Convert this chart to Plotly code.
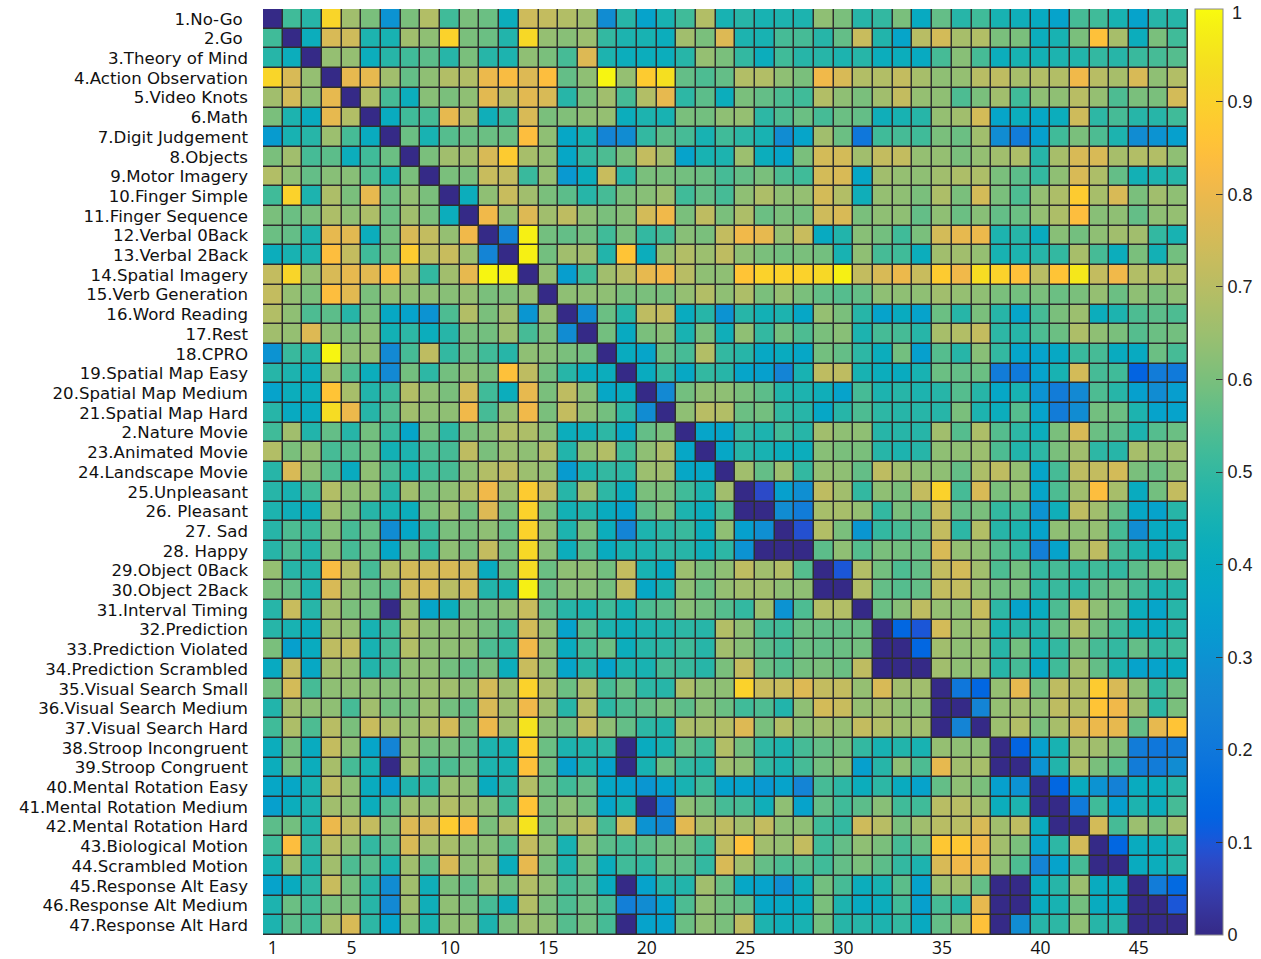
import plotly.graph_objects as go

# Task names (row / column order)
task_labels = [
    "1.No-Go ", "2.Go ", "3.Theory of Mind", "4.Action Observation", "5.Video Knots",
    "6.Math", "7.Digit Judgement", "8.Objects", "9.Motor Imagery", "10.Finger Simple",
    "11.Finger Sequence", "12.Verbal 0Back", "13.Verbal 2Back", "14.Spatial Imagery",
    "15.Verb Generation", "16.Word Reading", "17.Rest", "18.CPRO", "19.Spatial Map Easy",
    "20.Spatial Map Medium", "21.Spatial Map Hard", "2.Nature Movie", "23.Animated Movie",
    "24.Landscape Movie", "25.Unpleasant", "26. Pleasant", "27. Sad", "28. Happy",
    "29.Object 0Back", "30.Object 2Back", "31.Interval Timing", "32.Prediction",
    "33.Prediction Violated", "34.Prediction Scrambled", "35.Visual Search Small",
    "36.Visual Search Medium", "37.Visual Search Hard", "38.Stroop Incongruent",
    "39.Stroop Congruent", "40.Mental Rotation Easy", "41.Mental Rotation Medium",
    "42.Mental Rotation Hard", "43.Biological Motion", "44.Scrambled Motion",
    "45.Response Alt Easy", "46.Response Alt Medium", "47.Response Alt Hard",
]
task_numbers = list(range(1, 48))
x_tick_values = [1, 5, 10, 15, 20, 25, 30, 35, 40, 45]
cbar_tick_values = [0, 0.1, 0.2, 0.3, 0.4, 0.5, 0.6, 0.7, 0.8, 0.9]
cbar_tick_text = ["0", "0.1", "0.2", "0.3", "0.4", "0.5", "0.6", "0.7", "0.8", "0.9"]
cbar_top_text = "1"

# Pairwise task dissimilarity
values = [
    [0, .52, .48, .91, .66, .6, .3, .6, .69, .52, .6, .58, .42, .74, .72, .69, .66, .28, .48, .36, .45, .52, .69, .45, .48, .45, .46, .46, .63, .6, .48, .5, .6, .4, .57, .48, .52, .45, .43, .4, .36, .53, .52, .45, .36, .48, .48],
    [.52, 0, .42, .76, .74, .46, .45, .66, .63, .9, .6, .58, .47, .92, .64, .62, .65, .5, .46, .45, .42, .66, .6, .77, .46, .45, .53, .53, .48, .57, .73, .47, .37, .7, .75, .67, .69, .6, .6, .42, .45, .6, .85, .67, .42, .6, .52],
    [.48, .42, 0, .64, .64, .42, .48, .52, .56, .48, .6, .48, .46, .63, .6, .53, .77, .46, .42, .42, .42, .48, .64, .6, .5, .42, .52, .48, .48, .46, .48, .42, .42, .4, .53, .62, .53, .42, .45, .44, .46, .47, .5, .48, .51, .53, .55],
    [.91, .76, .64, 0, .79, .79, .66, .57, .63, .69, .69, .8, .83, .77, .84, .57, .63, .99, .64, .88, .94, .57, .54, .57, .69, .69, .63, .6, .81, .76, .69, .69, .72, .67, .63, .64, .7, .71, .67, .69, .69, .81, .7, .67, .76, .63, .69],
    [.66, .75, .63, .79, 0, .69, .53, .42, .62, .6, .63, .78, .71, .78, .76, .48, .6, .66, .53, .69, .79, .49, .56, .42, .6, .57, .54, .52, .69, .63, .6, .66, .72, .64, .63, .54, .6, .66, .52, .63, .63, .7, .64, .54, .6, .6, .75],
    [.6, .46, .41, .79, .69, 0, .41, .52, .53, .79, .68, .43, .51, .76, .6, .61, .63, .64, .42, .46, .45, .6, .59, .63, .64, .49, .54, .58, .53, .58, .57, .43, .45, .48, .64, .66, .75, .37, .42, .38, .42, .74, .49, .53, .48, .48, .52],
    [.33, .45, .48, .65, .53, .41, 0, .58, .45, .55, .58, .58, .58, .84, .63, .38, .45, .25, .28, .5, .56, .53, .45, .52, .49, .45, .28, .37, .66, .58, .2, .52, .53, .52, .6, .58, .66, .28, .22, .35, .52, .6, .54, .46, .28, .3, .35],
    [.6, .66, .53, .56, .42, .52, .58, 0, .6, .66, .66, .76, .88, .67, .64, .38, .5, .54, .6, .72, .66, .36, .45, .46, .65, .42, .37, .6, .75, .75, .66, .72, .72, .64, .64, .6, .64, .66, .68, .48, .67, .76, .76, .67, .69, .69, .63],
    [.69, .63, .57, .62, .62, .55, .44, .6, 0, .6, .6, .73, .72, .51, .64, .32, .42, .73, .49, .6, .6, .59, .58, .53, .57, .6, .54, .52, .75, .76, .38, .66, .64, .63, .66, .68, .68, .6, .56, .5, .63, .76, .68, .57, .44, .46, .48],
    [.52, .9, .46, .68, .6, .79, .58, .64, .6, 0, .42, .63, .73, .66, .6, .56, .48, .53, .6, .62, .65, .52, .57, .53, .63, .68, .63, .64, .75, .69, .43, .64, .63, .6, .68, .6, .75, .6, .54, .64, .68, .88, .67, .76, .6, .66, .63],
    [.6, .58, .6, .68, .63, .68, .58, .66, .6, .42, 0, .81, .64, .77, .66, .71, .63, .6, .62, .75, .81, .6, .71, .6, .68, .58, .6, .59, .74, .76, .6, .63, .63, .57, .63, .58, .62, .57, .58, .64, .68, .84, .62, .63, .57, .63, .64],
    [.58, .57, .46, .79, .78, .42, .59, .76, .72, .64, .81, 0, .25, .98, .59, .57, .59, .52, .6, .5, .53, .62, .6, .72, .81, .79, .64, .73, .4, .47, .62, .59, .52, .6, .75, .79, .8, .46, .48, .41, .62, .59, .63, .66, .66, .5, .45],
    [.42, .45, .46, .84, .72, .52, .59, .88, .7, .73, .65, .25, 0, .98, .59, .66, .66, .47, .86, .42, .64, .69, .65, .71, .63, .6, .59, .6, .59, .45, .63, .53, .52, .42, .66, .66, .64, .45, .46, .48, .5, .67, .53, .42, .6, .44, .59],
    [.72, .91, .64, .76, .79, .78, .84, .69, .5, .66, .79, .99, .98, 0, .64, .34, .52, .66, .7, .79, .81, .7, .63, .63, .86, .9, .9, .9, .92, .98, .72, .76, .8, .73, .88, .81, .93, .9, .85, .7, .86, .96, .72, .81, .69, .69, .68],
    [.72, .64, .6, .84, .78, .6, .63, .63, .63, .62, .64, .6, .61, .64, 0, .63, .63, .63, .6, .6, .6, .64, .69, .63, .68, .6, .64, .6, .57, .55, .57, .63, .63, .63, .66, .64, .63, .6, .59, .6, .58, .6, .64, .58, .63, .6, .63],
    [.69, .63, .54, .56, .48, .6, .39, .36, .3, .54, .69, .6, .66, .31, .64, 0, .28, .58, .48, .71, .72, .41, .48, .3, .48, .44, .46, .38, .64, .6, .48, .36, .41, .36, .58, .48, .6, .48, .37, .53, .6, .65, .42, .46, .54, .56, .54],
    [.66, .64, .77, .63, .6, .63, .44, .49, .42, .48, .6, .59, .65, .53, .61, .28, 0, .59, .4, .6, .62, .45, .6, .43, .63, .5, .59, .54, .6, .62, .46, .53, .53, .48, .67, .69, .72, .49, .48, .54, .58, .68, .63, .6, .55, .58, .59],
    [.3, .51, .48, .99, .64, .64, .27, .53, .71, .5, .58, .52, .48, .63, .62, .6, .59, 0, .41, .37, .58, .53, .69, .5, .48, .39, .41, .38, .59, .57, .49, .42, .59, .35, .55, .48, .62, .5, .37, .36, .39, .51, .53, .41, .4, .58, .53],
    [.48, .46, .42, .65, .54, .42, .27, .59, .49, .59, .63, .6, .85, .71, .59, .48, .41, .42, 0, .41, .5, .39, .5, .48, .37, .35, .25, .45, .71, .71, .45, .42, .41, .45, .58, .57, .58, .22, .21, .36, .45, .75, .53, .52, .13, .22, .21],
    [.36, .42, .42, .86, .67, .47, .51, .69, .63, .6, .75, .52, .42, .79, .6, .71, .62, .38, .41, 0, .27, .59, .63, .63, .6, .56, .47, .46, .43, .36, .53, .46, .48, .46, .48, .55, .48, .38, .45, .3, .22, .27, .54, .48, .35, .28, .34],
    [.48, .4, .41, .93, .8, .48, .55, .66, .63, .63, .81, .53, .64, .81, .6, .72, .63, .59, .49, .28, 0, .63, .7, .69, .58, .59, .5, .48, .38, .48, .54, .49, .48, .48, .48, .6, .46, .42, .55, .36, .22, .28, .59, .58, .46, .36, .36],
    [.52, .66, .47, .57, .48, .59, .51, .37, .59, .49, .6, .62, .69, .68, .62, .42, .43, .49, .39, .57, .6, 0, .37, .37, .5, .46, .52, .48, .66, .63, .63, .48, .48, .48, .66, .55, .68, .55, .49, .42, .6, .76, .58, .56, .46, .55, .58],
    [.69, .6, .63, .53, .55, .59, .44, .46, .54, .53, .71, .6, .65, .63, .69, .47, .63, .69, .52, .63, .68, .38, 0, .38, .48, .45, .42, .42, .62, .6, .6, .48, .46, .48, .63, .63, .65, .54, .47, .49, .6, .66, .49, .48, .67, .63, .66],
    [.48, .76, .63, .54, .41, .63, .53, .45, .52, .53, .63, .69, .71, .65, .64, .33, .46, .5, .49, .65, .66, .38, .38, 0, .66, .57, .65, .5, .64, .63, .57, .71, .66, .63, .63, .57, .68, .71, .64, .37, .53, .71, .72, .75, .6, .58, .63],
    [.48, .45, .52, .69, .63, .64, .48, .66, .6, .63, .69, .81, .66, .88, .72, .48, .66, .49, .42, .6, .6, .52, .46, .66, 0, .08, .35, .29, .71, .66, .5, .63, .6, .72, .9, .53, .76, .6, .63, .37, .54, .66, .84, .67, .41, .59, .72],
    [.46, .43, .42, .66, .6, .48, .45, .42, .6, .66, .59, .77, .6, .9, .6, .44, .47, .41, .36, .56, .6, .46, .42, .54, 0, 0, .28, .22, .67, .67, .64, .5, .6, .57, .73, .57, .6, .5, .52, .3, .43, .71, .66, .57, .38, .36, .48],
    [.48, .54, .51, .62, .53, .57, .28, .38, .51, .6, .6, .63, .58, .9, .63, .46, .6, .42, .25, .46, .49, .51, .42, .63, .35, .29, 0, .09, .69, .6, .31, .5, .53, .56, .72, .49, .69, .48, .46, .36, .63, .63, .64, .53, .28, .4, .42],
    [.48, .54, .47, .62, .53, .57, .38, .59, .5, .63, .6, .72, .6, .92, .62, .42, .56, .41, .45, .46, .49, .48, .43, .49, .3, 0, 0, 0, .56, .63, .55, .6, .59, .58, .76, .64, .63, .55, .5, .23, .36, .64, .71, .53, .46, .41, .48],
    [.64, .48, .47, .83, .7, .53, .69, .75, .75, .76, .75, .41, .59, .93, .58, .63, .63, .59, .72, .45, .4, .65, .6, .63, .71, .66, .69, .55, 0, .1, .69, .59, .54, .57, .72, .75, .66, .54, .59, .5, .53, .5, .52, .5, .56, .6, .62],
    [.6, .57, .46, .76, .64, .58, .56, .74, .76, .7, .75, .47, .45, .98, .57, .62, .62, .59, .72, .38, .45, .63, .58, .64, .66, .66, .63, .63, 0, 0, .69, .57, .55, .57, .72, .72, .64, .59, .6, .48, .51, .49, .56, .58, .53, .46, .48],
    [.48, .73, .48, .66, .6, .59, 0, .65, .37, .42, .6, .6, .63, .73, .57, .48, .46, .52, .45, .54, .56, .62, .59, .55, .5, .65, .3, .54, .69, .69, 0, .58, .62, .71, .64, .63, .73, .49, .36, .41, .54, .73, .63, .58, .42, .37, .48],
    [.48, .45, .42, .66, .64, .45, .52, .69, .63, .63, .63, .59, .53, .75, .63, .36, .55, .46, .43, .46, .47, .49, .48, .69, .63, .53, .52, .58, .57, .57, .58, 0, .14, .1, .75, .64, .66, .45, .48, .47, .58, .69, .59, .52, .42, .4, .48],
    [.6, .35, .41, .71, .72, .45, .52, .69, .63, .63, .63, .54, .5, .81, .63, .41, .53, .58, .42, .48, .49, .52, .48, .66, .62, .56, .53, .58, .57, .58, .59, 0, 0, .14, .66, .63, .64, .48, .59, .45, .5, .6, .53, .5, .57, .5, .52],
    [.4, .72, .39, .66, .63, .47, .52, .63, .63, .59, .57, .6, .42, .73, .63, .37, .48, .36, .46, .45, .53, .51, .48, .6, .72, .58, .55, .59, .6, .58, .71, 0, 0, 0, .66, .63, .64, .48, .53, .38, .52, .66, .57, .46, .36, .36, .41],
    [.59, .75, .53, .63, .63, .63, .62, .63, .65, .66, .63, .75, .66, .9, .68, .58, .68, .53, .58, .49, .48, .68, .63, .63, .9, .73, .73, .77, .72, .72, .64, .76, .66, .66, 0, .2, .14, .64, .79, .59, .71, .69, .88, .76, .63, .5, .59],
    [.47, .66, .63, .63, .53, .66, .59, .6, .65, .59, .57, .76, .66, .81, .66, .48, .69, .49, .54, .57, .6, .56, .62, .58, .52, .54, .47, .63, .75, .73, .64, .66, .63, .63, 0, 0, .25, .64, .66, .63, .71, .69, .86, .81, .66, .49, .6],
    [.52, .68, .54, .7, .6, .73, .68, .64, .69, .75, .6, .8, .66, .95, .63, .6, .72, .63, .57, .49, .47, .68, .67, .69, .77, .6, .69, .63, .66, .64, .72, .69, .65, .66, 0, .25, 0, .65, .69, .6, .67, .76, .8, .79, .57, .79, .86],
    [.42, .59, .41, .72, .63, .37, .25, .64, .59, .6, .57, .46, .45, .89, .58, .46, .47, .49, 0, .41, .45, .58, .52, .69, .59, .49, .46, .53, .57, .59, .5, .45, .47, .45, .64, .63, .63, 0, .13, .35, .45, .66, .66, .61, .22, .2, .22],
    [.42, .6, .42, .67, .53, .45, 0, .66, .54, .54, .58, .46, .45, .85, .59, .35, .46, .36, 0, .45, .58, .5, .48, .66, .63, .5, .46, .53, .59, .62, .35, .48, .63, .54, .79, .66, .67, 0, 0, .3, .47, .68, .6, .55, .22, .22, .28],
    [.38, .38, .45, .71, .63, .41, .34, .47, .49, .65, .63, .41, .48, .69, .59, .52, .57, .38, .36, .31, .36, .45, .52, .36, .36, .32, .36, .25, .53, .49, .42, .49, .41, .36, .57, .63, .6, .35, .3, 0, .14, .41, .3, .24, .41, .42, .48],
    [.35, .42, .46, .66, .63, .42, .54, .66, .64, .69, .66, .63, .52, .86, .6, .63, .59, .37, .45, 0, .23, .63, .59, .53, .53, .43, .63, .36, .57, .52, .56, .62, .52, .52, .7, .7, .66, .42, .46, 0, 0, .21, .52, .35, .46, .42, .53],
    [.56, .59, .47, .8, .72, .72, .6, .77, .76, .88, .84, .6, .68, .95, .6, .66, .71, .53, .75, .3, .27, .78, .67, .71, .66, .72, .63, .63, .52, .5, .74, .7, .6, .66, .7, .7, .76, .66, .71, .41, 0, 0, .75, .53, .65, .6, .66],
    [.52, .84, .49, .7, .63, .5, .56, .76, .66, .67, .63, .63, .56, .72, .63, .45, .64, .56, .53, .56, .59, .6, .52, .71, .85, .66, .64, .72, .52, .57, .63, .6, .53, .58, .87, .87, .81, .66, .6, .36, .49, .75, 0, .14, .41, .42, .48],
    [.45, .66, .47, .66, .54, .56, .46, .66, .56, .76, .63, .66, .42, .79, .6, .46, .6, .42, .52, .5, .58, .57, .5, .76, .66, .57, .54, .56, .52, .57, .6, .56, .5, .46, .76, .81, .8, .63, .54, .25, .36, .53, 0, 0, .41, .42, .48],
    [.36, .41, .49, .73, .6, .48, .28, .66, .43, .6, .57, .65, .6, .69, .63, .53, .57, .41, 0, .36, .48, .47, .66, .58, .38, .36, .29, .43, .59, .53, .42, .45, .56, .36, .65, .66, .57, 0, 0, .41, .48, .65, .41, .42, 0, .22, .15],
    [.46, .58, .52, .6, .6, .48, .27, .66, .43, .63, .6, .53, .43, .69, .6, .54, .58, .53, .23, .28, .36, .54, .63, .59, .57, .38, .39, .41, .6, .46, .4, .42, .52, .35, .53, .48, .79, 0, 0, .41, .45, .59, .41, .41, 0, 0, .1],
    [.46, .56, .52, .67, .76, .49, .37, .63, .45, .63, .63, .46, .6, .66, .63, .55, .59, .53, 0, .36, .36, .58, .63, .6, .71, .46, .43, .45, .59, .48, .48, .46, .5, .4, .57, .63, .85, 0, .28, .48, .49, .63, .48, .48, 0, 0, 0],
]

# Parula colormap (64 steps)
parula_rgb = [
    (53, 42, 135), (54, 48, 147), (54, 55, 160), (53, 61, 173), (50, 67, 186), (44, 74, 199),
    (32, 83, 212), (15, 92, 221), (3, 99, 225), (2, 104, 225), (4, 109, 224), (8, 113, 222),
    (13, 117, 220), (16, 121, 218), (18, 125, 216), (20, 129, 214), (20, 133, 212), (19, 137, 211),
    (16, 142, 210), (12, 147, 210), (9, 152, 209), (7, 156, 207), (6, 160, 205), (6, 164, 202),
    (6, 167, 198), (7, 169, 194), (10, 172, 190), (15, 174, 185), (21, 177, 180), (29, 179, 175),
    (37, 181, 169), (46, 183, 164), (56, 185, 158), (66, 187, 152), (77, 188, 146), (89, 189, 140),
    (101, 190, 134), (113, 191, 128), (124, 191, 123), (135, 191, 119), (146, 191, 115), (156, 191, 111),
    (165, 190, 107), (174, 190, 103), (183, 189, 100), (192, 188, 96), (200, 188, 93), (209, 187, 89),
    (217, 186, 86), (225, 185, 82), (233, 185, 78), (241, 185, 74), (248, 187, 68), (253, 190, 61),
    (255, 195, 55), (254, 200, 50), (252, 206, 46), (250, 211, 42), (247, 216, 38), (245, 222, 33),
    (245, 228, 29), (245, 235, 24), (246, 242, 19), (249, 251, 14),
]
n_steps = len(parula_rgb)
parula = [[i / (n_steps - 1), "rgb(%d,%d,%d)" % c] for i, c in enumerate(parula_rgb)]

row_label_font = dict(family="DejaVu Sans, sans-serif", size=16.6, color="#111111")
col_label_font = dict(family="Open Sans, Noto Sans, sans-serif", size=17.5, color="#111111")
cbar_font = dict(family="Liberation Sans, Arial, sans-serif", size=18, color="#222222")

# Figure geometry (pixels)
W, H = 1261, 959
left, right, top, bottom = 263, 73, 9, 24
plot_w = W - left - right
plot_h = H - top - bottom
cbar_left_px = 1195

fig = go.Figure(
    go.Heatmap(
        z=values,
        x=task_numbers,
        y=task_numbers,
        colorscale=parula,
        zmin=0,
        zmax=1,
        xgap=1.5,
        ygap=1.5,
        colorbar=dict(
            thickness=28,
            len=1,
            lenmode="fraction",
            y=0.5,
            yanchor="middle",
            x=(cbar_left_px - left) / plot_w,
            xanchor="left",
            xpad=0,
            ypad=0,
            outlinewidth=1,
            outlinecolor="#8c8c8c",
            tickvals=cbar_tick_values,
            ticktext=cbar_tick_text,
            ticks="inside",
            ticklen=7,
            tickwidth=1,
            tickcolor="#333333",
            tickfont=cbar_font,
        ),
        hovertemplate="%{y} vs %{x}: %{z}<extra></extra>",
    )
)

# Top colorbar label, kept just inside the figure edge
fig.add_annotation(
    text=cbar_top_text,
    xref="paper",
    yref="paper",
    x=(cbar_left_px + 35 - left) / plot_w,
    y=1 - 4 / plot_h,
    xanchor="left",
    yanchor="middle",
    showarrow=False,
    font=cbar_font,
)

fig.update_layout(
    width=W,
    height=H,
    margin=dict(l=left, r=right, t=top, b=bottom, autoexpand=False),
    plot_bgcolor="#2e2e2e",
    paper_bgcolor="white",
)
fig.update_xaxes(
    range=[0.5, 47.5],
    tickvals=x_tick_values,
    showgrid=False,
    zeroline=False,
    showline=False,
    ticks="",
    tickfont=col_label_font,
    ticklabelstandoff=0,
)
fig.update_yaxes(
    range=[47.5, 0.5],
    tickvals=task_numbers,
    ticktext=task_labels,
    showgrid=False,
    zeroline=False,
    showline=False,
    ticks="",
    tickfont=row_label_font,
    ticklabelstandoff=14,
)

fig.write_html("out.html")
